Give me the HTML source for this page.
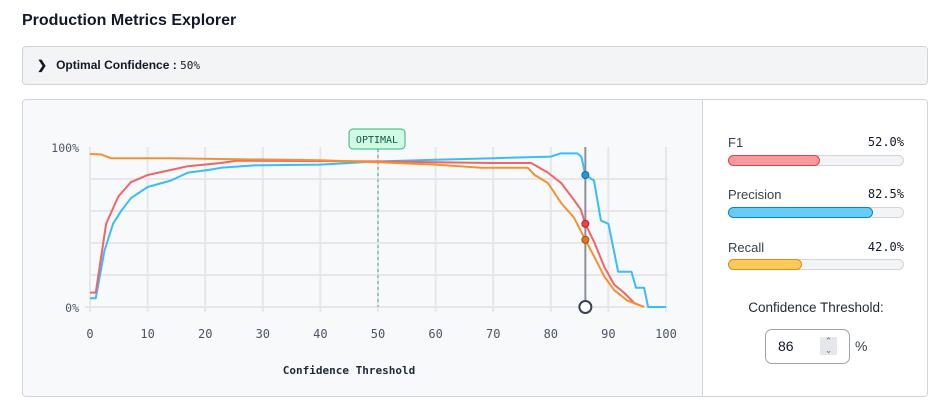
<!DOCTYPE html>
<html><head><meta charset="utf-8"><style>
*{box-sizing:border-box;margin:0;padding:0}
body{width:945px;height:414px;background:#fff;font-family:"Liberation Sans",sans-serif;color:#111827;position:relative;overflow:hidden}
.title{position:absolute;left:22px;top:12px;font-size:16px;font-weight:bold}
.bar{position:absolute;left:22px;top:46px;width:906px;height:39px;background:#f3f4f6;border:1px solid #d1d5db;border-radius:4px;font-size:12px;font-weight:bold;line-height:37px;padding-left:14px}
.mono{font-family:"DejaVu Sans Mono",monospace;font-weight:normal;font-size:11px}
.card{position:absolute;left:22px;top:99px;width:906px;height:298px;border:1px solid #d1d5db;border-radius:4px;background:#f8f9fb;overflow:hidden}
.side{position:absolute;left:679px;top:0;width:227px;height:298px;background:#fff;border-left:1px solid #d1d5db}
.row{position:absolute;left:25px;width:176px;font-size:13px;color:#374151}
.row .v{position:absolute;right:0;top:0;font-family:"DejaVu Sans Mono",monospace;font-size:12px;color:#111827}
.track{position:absolute;left:25px;width:176px;height:11px;border:1px solid #d1d5db;border-radius:6px;background:#f3f4f6}
.fill{position:absolute;left:-1px;top:-1px;height:11px;border-radius:6px}
</style></head><body>
<div class="title">Production Metrics Explorer</div>
<div class="bar"><span style="font-size:12px;margin-right:9px">&#x276F;</span>Optimal Confidence : <span class="mono">50%</span></div>
<div class="card">
<svg id="c" width="680" height="298" style="position:absolute;left:0;top:0" font-family="DejaVu Sans Mono, monospace"></svg>
<div class="side">
<div class="row" style="top:35px">F1<span class="v">52.0%</span></div>
<div class="track" style="top:55px"><div class="fill" style="width:92px;background:#f8999c;border:1px solid #e0424a"></div></div>
<div class="row" style="top:87px">Precision<span class="v">82.5%</span></div>
<div class="track" style="top:107px"><div class="fill" style="width:145px;background:#67cdf8;border:1px solid #0b84c4"></div></div>
<div class="row" style="top:140px">Recall<span class="v">42.0%</span></div>
<div class="track" style="top:159px"><div class="fill" style="width:74px;background:#fdc95a;border:1px solid #e08a1a"></div></div>
<div style="position:absolute;left:0;width:226px;top:200px;text-align:center;font-size:13.5px;color:#1f2937">Confidence Threshold:</div>
<div style="position:absolute;left:62px;top:229px;width:85px;height:35px;border:1px solid #9ca3af;border-radius:7px;background:#fff;font-size:14px;line-height:33px;padding-left:12px">86<span style="position:absolute;left:54px;top:7px;width:17px;height:18px;background:#e5e7eb;font-size:9px;line-height:9px;text-align:center;color:#6b7280">&#8963;<br>&#8964;</span></div>
<div style="position:absolute;left:152px;top:238px;font-size:14px;color:#374151">%</div>
</div>
</div>
<script>
const s=document.getElementById('c');
const X=x=>67+x*5.76, Y=y=>207-y*1.6;
let h='';
for(let i=1;i<5;i++)h+=`<line x1="67" x2="645" y1="${Y(i*20)}" y2="${Y(i*20)}" stroke="#e5e7eb" stroke-width="2"/>`;
for(let i=0;i<=10;i++){h+=`<line x1="${X(i*10)}" x2="${X(i*10)}" y1="47" y2="212" stroke="#e5e7eb" stroke-width="2"/>`;
h+=`<text x="${X(i*10)}" y="238" text-anchor="middle" font-size="12" fill="#4b5563">${i*10}</text>`;}
h+=`<line x1="62" x2="645" y1="207" y2="207" stroke="#e5e7eb" stroke-width="2"/><line x1="67" x2="67" y1="47" y2="212" stroke="#e5e7eb" stroke-width="2"/>`;
h+=`<text x="56" y="52" text-anchor="end" font-size="11.5" fill="#4b5563">100%</text><text x="56" y="212" text-anchor="end" font-size="11.5" fill="#4b5563">0%</text>`;
h+=`<text x="326" y="274" text-anchor="middle" font-size="11" font-weight="bold" fill="#1f2937">Confidence Threshold</text>`;
h+=`<line x1="${X(50)}" x2="${X(50)}" y1="49" y2="207" stroke="#5eb89a" stroke-width="1.2" stroke-dasharray="3,3"/>`;
h+=`<rect x="326" y="29" width="56" height="20" rx="4" fill="#d1fae5" stroke="#34b27b"/><text x="354" y="43" text-anchor="middle" font-size="10" fill="#065f46">OPTIMAL</text>`;
const P=[[0,5.5],[1,5.5],[2.5,35],[4,52],[5.4,60],[7.1,68],[10,75],[14,79],[17,84],[20.5,85.6],[22.7,87],[28.5,88.5],[40,89],[50,91],[60,92],[70,93],[80,94],[81.7,96],[84.6,96],[85.3,94],[86,82.5],[87.5,79],[88.7,54],[90,52],[91.7,22],[94,22],[94.8,12],[96.2,12],[96.9,0],[100,0]];
const F=[[0,9],[1,9],[2.8,52],[4.9,69],[7.1,78],[10,82.5],[14,85.6],[17,88],[22.7,90],[25.6,91.5],[50,91],[60,90.5],[70,90],[76.6,90],[79.5,84],[81.8,77.5],[84,67],[85.2,61],[86,52],[87.6,40],[89.3,25],[91,14],[92.7,9],[94.5,2.5],[96.2,0]];
const R=[[0,95.6],[2,95.3],[3.6,93],[14,93],[22.7,92.5],[40,91.7],[50,90.5],[60,89],[68,87],[76,87],[77.2,82.5],[79.5,77.5],[81.8,65],[84,56],[86,42],[87.6,31],[89.3,19],[91,10.6],[93.3,4],[96.2,0]];
const pl=(a,c)=>`<polyline fill="none" stroke="${c}" stroke-width="2" stroke-linejoin="round" points="${a.map(p=>X(p[0])+','+Y(p[1])).join(' ')}"/>`;
h+=pl(P,'#38bdf8')+pl(F,'#f06468')+pl(R,'#f59030');
h+=`<line x1="${X(86)}" x2="${X(86)}" y1="47" y2="200" stroke="#8b919b" stroke-width="2"/>`;
h+=`<circle cx="${X(86)}" cy="${Y(82.5)}" r="3.5" fill="#1e9be0" stroke="#0b6fa8"/><circle cx="${X(86)}" cy="${Y(52)}" r="3.5" fill="#ef4444" stroke="#b91c1c"/><circle cx="${X(86)}" cy="${Y(42)}" r="3.5" fill="#e07820" stroke="#a04f10"/>`;
h+=`<circle cx="${X(86)}" cy="207" r="6" fill="#fff" stroke="#374151" stroke-width="2"/>`;
s.innerHTML=h;
</script>
</body></html>
